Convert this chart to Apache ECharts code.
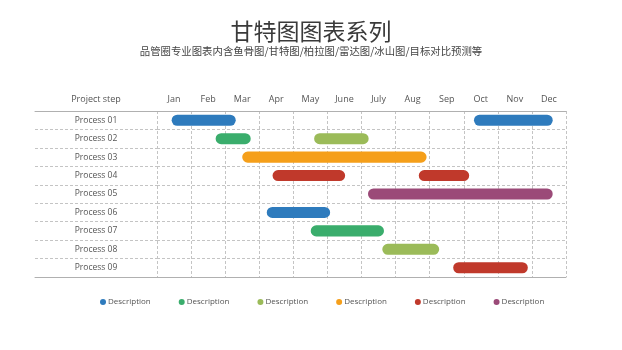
<!DOCTYPE html>
<html>
<head>
<meta charset="utf-8">
<script src="https://cdn.jsdelivr.net/npm/echarts@6/dist/echarts.min.js"></script>
<style>
  html, body { margin: 0; padding: 0; background: #fff; }
  #chart { width: 622px; height: 350px; }
</style>
</head>
<body>
<div id="chart"></div>
<script>
const processes = ['Process 01', 'Process 02', 'Process 03', 'Process 04', 'Process 05',
  'Process 06', 'Process 07', 'Process 08', 'Process 09'];
const months = ['Jan', 'Feb', 'Mar', 'Apr', 'May', 'June', 'July', 'Aug', 'Sep', 'Oct', 'Nov', 'Dec'];

// [process, start, end] in months from start of Jan
const blueTasks = [['Process 01', 0.43, 2.31], ['Process 01', 9.30, 11.61], ['Process 06', 3.22, 5.08]];
const greenTasks = [['Process 02', 1.72, 2.75], ['Process 07', 4.51, 6.66]];
const limeTasks = [['Process 02', 4.61, 6.21], ['Process 08', 6.61, 8.28]];
const orangeTasks = [['Process 03', 2.50, 7.91]];
const redTasks = [['Process 04', 3.39, 5.52], ['Process 04', 7.68, 9.16], ['Process 09', 8.69, 10.88]];
const purpleTasks = [['Process 05', 6.19, 11.61]];

const seriesNames = ['Description 1', 'Description 2', 'Description 3', 'Description 4', 'Description 5', 'Description 6'];
const seriesColors = ['#2e7bbd', '#3aad6c', '#9bbb59', '#f59f1a', '#c0392b', '#9b4a78'];
const seriesData = [blueTasks, greenTasks, limeTasks, orangeTasks, redTasks, purpleTasks];

function renderBar(params, api) {
  const y = api.value(0);
  const p0 = api.coord([api.value(1), y]);
  const p1 = api.coord([api.value(2), y]);
  const h = api.size([0, 1])[1] * 0.6;
  return {
    type: 'rect',
    shape: { x: p0[0], y: p0[1] - h / 2, width: p1[0] - p0[0], height: h, r: h / 2 },
    style: api.style()
  };
}

const textFont = '"Open Sans", "Noto Sans", sans-serif';
const dashLine = { show: true, lineStyle: { color: '#c4c4c4', type: [3, 2], width: 1 } };
const solidLine = { show: true, lineStyle: { color: '#b0b0b0', width: 1 } };

let myChart = echarts.init(document.getElementById('chart'));
myChart.setOption({
  backgroundColor: '#fff',
  animation: false,
  color: seriesColors,
  title: {
    text: '甘特图图表系列',
    subtext: '品管圈专业图表内含鱼骨图/甘特图/柏拉图/雷达图/冰山图/目标对比预测等',
    left: 'center',
    top: 20,
    padding: 0,
    itemGap: 3,
    textStyle: { fontFamily: 'Noto Sans CJK SC', fontSize: 23, fontWeight: 'normal', color: '#3a3a3a' },
    subtextStyle: { fontFamily: 'Noto Sans CJK SC', fontSize: 10.4, color: '#444' }
  },
  legend: {
    left: 95,
    top: 293,
    icon: 'circle',
    itemWidth: 6,
    itemHeight: 6,
    itemGap: 28,
    formatter: () => 'Description',
    textStyle: { fontFamily: textFont, fontSize: 8, color: '#555', padding: [0, 0, 0, -3] }
  },
  grid: [
    { left: 35, top: 111, width: 122, height: 166 },
    { left: 157, top: 111, width: 409, height: 166 }
  ],
  xAxis: [
    {
      gridIndex: 0, type: 'category', position: 'top', data: ['Project step'],
      axisLine: solidLine, axisTick: { show: false },
      axisLabel: { margin: 7, fontFamily: textFont, fontSize: 9, color: '#555' }
    },
    {
      gridIndex: 0, type: 'value', position: 'bottom', min: 0, max: 1,
      axisLine: solidLine, axisTick: { show: false }, axisLabel: { show: false }, splitLine: { show: false }
    },
    {
      gridIndex: 1, type: 'value', position: 'bottom', min: 0, max: 12, interval: 1,
      axisLine: solidLine, axisTick: { show: false }, axisLabel: { show: false }, splitLine: dashLine
    },
    {
      gridIndex: 1, type: 'category', position: 'top', data: months,
      axisLine: solidLine, axisTick: { show: false },
      axisLabel: { margin: 7, fontFamily: textFont, fontSize: 9, color: '#555' }
    }
  ],
  yAxis: [
    {
      gridIndex: 0, type: 'category', inverse: true, data: processes,
      axisLine: { show: false }, axisTick: { show: false },
      axisLabel: { inside: true, align: 'center', margin: 61, fontFamily: textFont, fontSize: 8.5, color: '#555' },
      splitLine: dashLine
    },
    {
      gridIndex: 1, type: 'category', inverse: true, data: processes,
      axisLine: { show: false }, axisTick: { show: false }, axisLabel: { show: false },
      splitLine: dashLine
    }
  ],
  series: seriesNames.map((name, i) => ({
    name: name,
    type: 'custom',
    xAxisIndex: 2,
    yAxisIndex: 1,
    renderItem: renderBar,
    encode: { x: [1, 2], y: 0 },
    data: seriesData[i]
  }))
});
</script>
</body>
</html>
